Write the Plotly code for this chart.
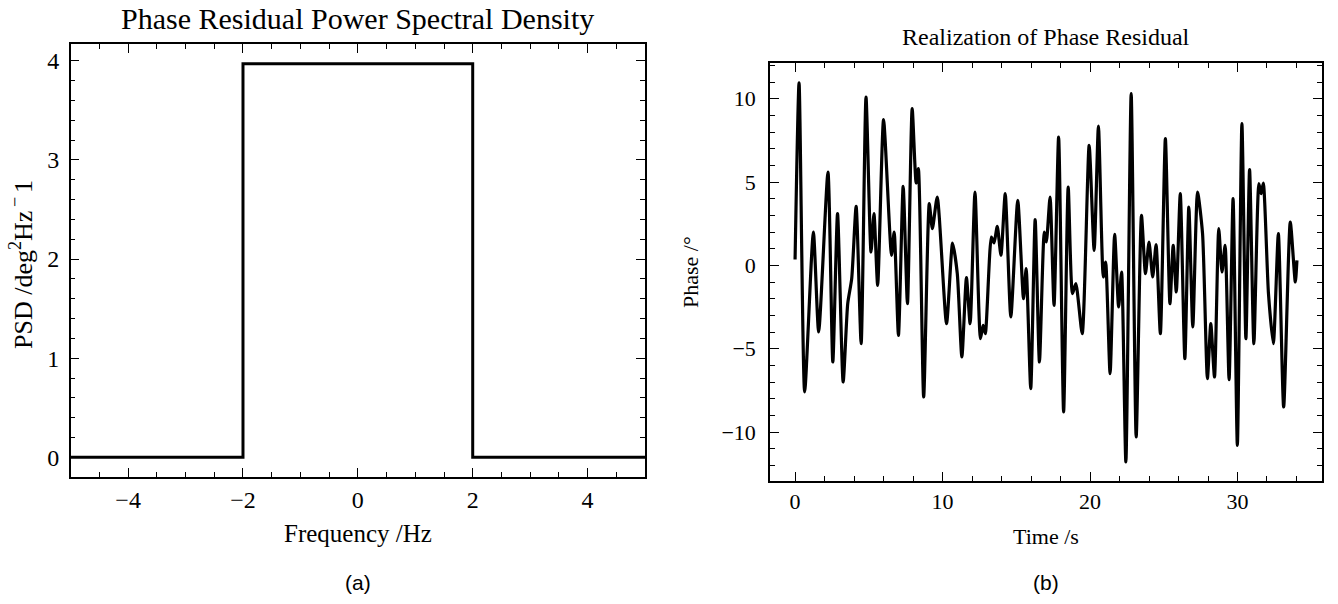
import plotly.graph_objects as go

# ---- Data ----
freq_hz = [-5, -2, -2, 2, 2, 5]
psd_vals = [0, 0, 3.97, 3.97, 0, 0]

time_s = [0.0, 0.27, 0.65, 1.24, 1.6, 2.23, 2.56, 2.88, 3.26, 3.57, 3.84, 4.14, 4.48, 4.81,
          5.15, 5.35, 5.6, 6.0, 6.54, 6.72, 7.01, 7.33, 7.62, 7.94, 8.21, 8.36, 8.72, 9.1,
          9.31, 9.64, 10.27, 10.68, 11.0, 11.31, 11.62, 11.87, 12.2, 12.57, 12.75, 12.9,
          13.31, 13.49, 13.71, 13.96, 14.25, 14.63, 15.1, 15.49, 15.67, 15.98, 16.28, 16.57,
          16.9, 17.04, 17.29, 17.56, 17.87, 18.21, 18.52, 18.81, 19.04, 19.47, 19.94, 20.28,
          20.57, 20.9, 21.06, 21.36, 21.67, 21.94, 22.14, 22.43, 22.79, 23.13, 23.49, 23.76,
          24.0, 24.25, 24.48, 24.77, 25.11, 25.42, 25.64, 25.85, 26.12, 26.43, 26.7, 26.97,
          27.29, 27.63, 27.96, 28.19, 28.44, 28.73, 28.95, 29.16, 29.43, 29.7, 29.99, 30.3,
          30.57, 30.82, 31.11, 31.45, 31.6, 31.75, 32.1, 32.43, 32.77, 33.13, 33.58, 33.92, 34.03]
phase_deg = [0.35, 10.95, -7.6, 2.0, -4.0, 5.6, -5.8, 3.1, -7.0, -2.3, -0.8, 3.54, -4.7, 10.1,
             0.8, 3.1, -1.2, 8.74, 0.6, 2.0, -4.2, 4.74, -2.3, 9.4, 4.94, 5.8, -7.9, 3.7,
             2.2, 4.1, -3.5, 1.34, -0.5, -5.5, -0.74, -3.5, 4.4, -4.4, -3.6, -4.1,
             1.7, 1.34, 2.34, 0.6, 4.3, -3.1, 3.9, -2.0, -0.2, -7.4, 2.74, -5.8,
             2.0, 1.4, 4.1, -2.4, 7.7, -8.8, 4.7, -1.7, -1.1, -4.1, 7.2, 0.9,
             8.36, -0.7, 0.2, -6.5, 1.86, -2.5, -0.4, -11.8, 10.3, -10.3, 3.0, -0.5,
             1.4, -0.7, 1.24, -4.1, 7.6, -2.3, 1.2, -1.6, 4.3, -5.6, 3.5, -3.7,
             4.4, 1.9, -6.8, -3.5, -6.7, 2.2, -0.4, 1.2, -6.86, 4.0, -10.8, 8.5,
             -4.4, 5.74, -4.7, 4.9, 4.3, 4.94, -1.7, -4.7, 1.9, -8.5, 2.6, -1.0, 0.3]

W, H = 1338, 604
SERIF = "Liberation Serif"
SANS = "Liberation Sans"

fig = go.Figure()
fig.add_trace(go.Scatter(x=freq_hz, y=psd_vals, mode="lines",
                         line=dict(color="black", width=3), xaxis="x", yaxis="y",
                         showlegend=False, hoverinfo="skip"))
fig.add_trace(go.Scatter(x=time_s, y=phase_deg, mode="lines",
                         line=dict(color="black", width=3.2, shape="spline", smoothing=0.6),
                         xaxis="x2", yaxis="y2", showlegend=False, hoverinfo="skip"))


def px_x(p):
    return p / W


def px_y(p):
    return 1 - p / H


L = dict(x0=70.7, x1=645, y0=44, y1=477)
R = dict(x0=770, x1=1322, y0=63, y1=481)

fig.update_layout(
    template="none",
    width=W, height=H, margin=dict(l=0, r=0, t=0, b=0),
    paper_bgcolor="white", plot_bgcolor="white",
    font=dict(family=SERIF, size=22, color="black"),
)


def axis(domain, anchor, rng, dtick, mdtick, fs, standoff=0):
    return dict(domain=domain, anchor=anchor, range=rng, dtick=dtick,
                ticks="inside", ticklen=9, tickwidth=1.3, tickcolor="black",
                showline=True, linecolor="black", linewidth=1.5, mirror="allticks",
                showgrid=False, zeroline=False, ticklabelstandoff=standoff,
                tickfont=dict(family=SERIF, size=fs, color="black"),
                minor=dict(ticks="inside", ticklen=5, tickwidth=1.1, tickcolor="black", dtick=mdtick))


fig.update_layout(
    xaxis=axis([px_x(L["x0"]), px_x(L["x1"])], "y", [-5, 5], 2, 0.5, 24),
    yaxis=axis([px_y(L["y1"]), px_y(L["y0"])], "x", [-0.1985, 4.1685], 1, 0.2, 24, 5),
    xaxis2=axis([px_x(R["x0"]), px_x(R["x1"])], "y2", [-1.70, 35.73], 10, 2, 22),
    yaxis2=axis([px_y(R["y1"]), px_y(R["y0"])], "x2", [-12.94, 12.14], 5, 1, 22, 8),
)


def ann(text, x, y, size, family=SERIF, angle=0):
    fig.add_annotation(text=text, x=px_x(x), y=px_y(y), xref="paper", yref="paper",
                       showarrow=False, xanchor="center", yanchor="middle",
                       textangle=angle, font=dict(family=family, size=size, color="black"))


ann("Phase Residual Power Spectral Density", 358, 18, 30)
ann("Realization of Phase Residual", 1046, 37, 24)
ann("Frequency /Hz", 358, 533, 25)
ann("Time /s", 1046, 536, 22)
ann("PSD /deg<sup>2</sup>Hz<sup>\u2009−\u2009</sup>1", 21, 265, 26, angle=-90)
ann("Phase /°", 690, 272, 22, angle=-90)
ann("(a)", 358, 582, 21, family=SANS)
ann("(b)", 1046, 582, 21, family=SANS)

fig.write_html("out.html")
